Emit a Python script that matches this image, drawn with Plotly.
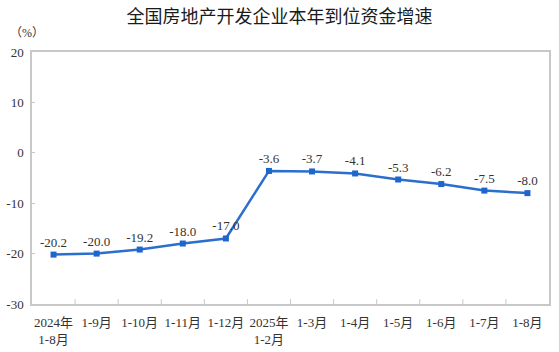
import plotly.graph_objects as go

categories = ["2024年<br>1-8月", "1-9月", "1-10月", "1-11月", "1-12月", "2025年<br>1-2月",
              "1-3月", "1-4月", "1-5月", "1-6月", "1-7月", "1-8月"]
values = [-20.2, -20.0, -19.2, -18.0, -17.0, -3.6, -3.7, -4.1, -5.3, -6.2, -7.5, -8.0]
labels = [f"{v:.1f}" for v in values]
y_ticks = [20, 10, 0, -10, -20, -30]

x = list(range(len(categories)))
serif = "Liberation Serif, Noto Sans CJK SC, serif"

fig = go.Figure()
fig.add_trace(go.Scatter(
    x=x, y=values, mode="lines+markers+text",
    line=dict(color="#2a6fcd", width=2.5),
    marker=dict(symbol="square", size=6, color="#1d66cc"),
    text=labels, textposition="top center",
    textfont=dict(family=serif, size=13, color="#333333"),
    cliponaxis=False, hoverinfo="skip",
))
# category boundary ticks
fig.add_trace(go.Scatter(x=[i + 0.5 for i in range(len(categories) - 1)],
                         y=[-30] * (len(categories) - 1), mode="markers",
                         marker=dict(symbol="line-ns", size=7, line=dict(color="#c8c8c8", width=1)),
                         hoverinfo="skip", cliponaxis=True))

fig.update_layout(
    width=559, height=352,
    margin=dict(l=32, r=10, t=52, b=48, autoexpand=False),
    paper_bgcolor="white", plot_bgcolor="white",
    showlegend=False,
    title=dict(text="全国房地产开发企业本年到位资金增速", x=0.5, xanchor="center",
               y=0.952, yanchor="middle", automargin=False,
               font=dict(family="Noto Sans CJK SC", size=18, color="#1a1a1a")),
)
fig.add_annotation(text="（%）", xref="paper", yref="paper", x=-0.01, y=1.075,
                   xanchor="center", yanchor="middle", showarrow=False,
                   font=dict(family=serif, size=12, color="#333333"))

fig.update_xaxes(
    range=[-0.5, len(categories) - 0.5],
    tickvals=x, ticktext=categories, automargin=False,
    showline=True, linecolor="#c8c8c8", linewidth=1.5, mirror=True,
    showgrid=False, zeroline=False,
    ticks="", tickfont=dict(family=serif, size=13, color="#333333"),
    ticklabelstandoff=6,
)
fig.update_yaxes(
    range=[-30, 20], tickvals=y_ticks, automargin=False,
    ticktext=[str(t) if t >= 0 else "-" + str(-t) for t in y_ticks],
    showline=True, linecolor="#c8c8c8", linewidth=1.5, mirror=True,
    showgrid=False, zeroline=False,
    ticks="inside", ticklen=3, tickcolor="#c8c8c8",
    tickfont=dict(family=serif, size=13, color="#333333"),
    ticklabelstandoff=4,
)

fig.write_html("out.html")
